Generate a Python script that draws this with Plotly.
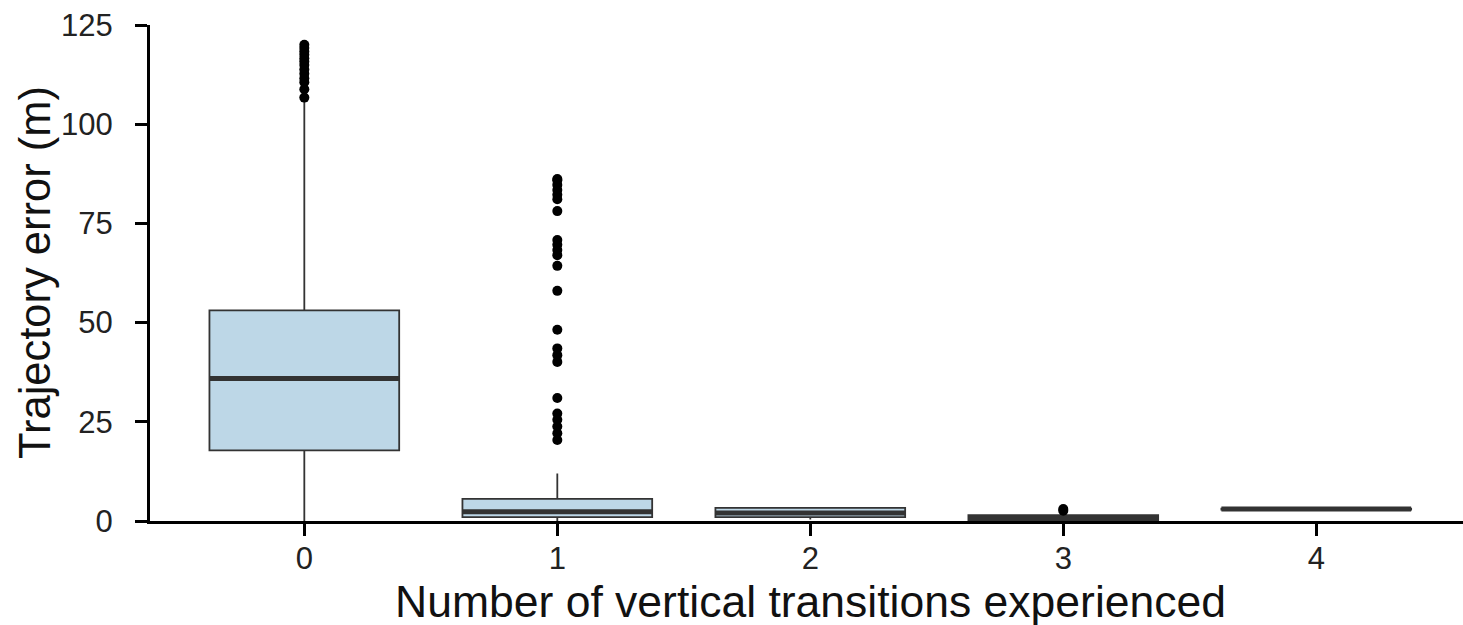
import plotly.graph_objects as go

categories = [0, 1, 2, 3, 4]
tick_labels = ["0", "1", "2", "3", "4"]
lower_whisker = [0.0, 0.0, 0.4, 0.0, 2.8]
q1 = [17.8, 1.0, 1.0, 0.2, 2.9]
median = [35.9, 2.3, 2.0, 0.6, 3.0]
q3 = [53.1, 5.6, 3.3, 1.5, 3.1]
upper_whisker = [106.0, 12.0, 3.4, 2.0, 3.2]

outliers_0 = [120.0, 119.2, 118.3, 117.5, 116.6, 115.8, 114.9, 113.8, 112.7,
              111.6, 110.6, 108.8, 106.7]
outliers_1 = [86.2, 85.9, 84.7, 83.4, 82.2, 81.1, 78.1, 70.8, 69.6, 68.3, 67.0,
              64.3, 58.0, 48.2, 43.5, 41.8, 40.1, 31.0, 27.1, 25.5, 23.8, 22.1, 20.4]
outliers_2 = []
outliers_3 = [3.0, 2.6]
outliers_4 = []
outliers = [outliers_0, outliers_1, outliers_2, outliers_3, outliers_4]

x_title = "Number of vertical transitions experienced"
y_title = "Trajectory error (m)"

BOX_W = 0.75
FILL = "#BDD7E7"
EDGE = "#333333"
FONT = "Liberation Sans, Arial, Helvetica, sans-serif"

fig = go.Figure()
fig.add_trace(go.Box(
    x=categories, q1=q1, median=median, q3=q3,
    lowerfence=lower_whisker, upperfence=upper_whisker,
    width=BOX_W, whiskerwidth=0, boxpoints=False,
    fillcolor=FILL, line=dict(color=EDGE, width=1.8),
    showlegend=False, hoverinfo="skip",
))

# thick median bars (ggplot style)
mx, my = [], []
for c, m in zip(categories, median):
    mx += [c - BOX_W / 2, c + BOX_W / 2, None]
    my += [m, m, None]
fig.add_trace(go.Scatter(x=mx, y=my, mode="lines",
                         line=dict(color=EDGE, width=5),
                         showlegend=False, hoverinfo="skip"))

ox, oy = [], []
for c, vals in zip(categories, outliers):
    ox += [c] * len(vals)
    oy += vals
fig.add_trace(go.Scatter(x=ox, y=oy, mode="markers",
                         marker=dict(color="black", size=10),
                         showlegend=False, hoverinfo="skip"))

fig.update_layout(
    width=1463, height=625,
    margin=dict(l=150, r=0, t=25, b=104, autoexpand=False),
    paper_bgcolor="white", plot_bgcolor="white",
    font=dict(family=FONT, color="black", size=32),
    xaxis=dict(
        range=[-0.61, 4.58], tickmode="array", tickvals=categories,
        ticktext=tick_labels, showgrid=False, zeroline=False,
        showline=True, linecolor="black", linewidth=3,
        ticks="outside", ticklen=12, tickwidth=3, tickcolor="black",
        tickfont=dict(size=31, color="#222222"), ticklabelstandoff=-4,
        automargin=False,
    ),
    yaxis=dict(
        range=[0, 125], tickmode="array", tickvals=[0, 25, 50, 75, 100, 125],
        showgrid=False, zeroline=False,
        showline=True, linecolor="black", linewidth=3,
        ticks="outside", ticklen=12, tickwidth=3, tickcolor="black",
        tickfont=dict(size=31, color="#222222"), ticklabelstandoff=16,
        automargin=False,
    ),
    annotations=[
        dict(text=x_title, xref="paper", yref="paper", x=0.5, y=0,
             xanchor="center", yanchor="middle", xshift=4, yshift=-80,
             showarrow=False, font=dict(size=44.5, color="#111111")),
        dict(text=y_title, xref="paper", yref="paper", x=0, y=0.5,
             xanchor="center", yanchor="middle", xshift=-115, yshift=0,
             textangle=-90, showarrow=False, font=dict(size=43.5, color="#111111")),
    ],
)

fig.write_html(
    "out.html",
    config={"displayModeBar": False},
    post_script="document.body.style.margin='0';document.body.style.overflow='hidden';",
)
